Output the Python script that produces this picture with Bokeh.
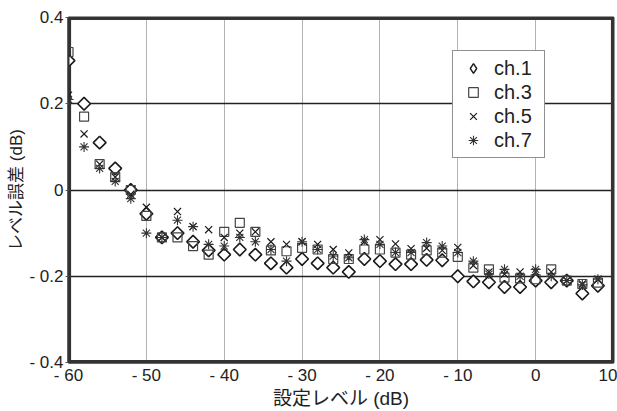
import math
from bokeh.plotting import figure
from bokeh.models import (Legend, LegendItem, FixedTicker, CDSView, IndexFilter,
                          ColumnDataSource)
from bokeh.embed import file_html
from bokeh.resources import INLINE

# Data
level = [-60, -58, -56, -54, -52, -50, -48, -46, -44, -42, -40, -38, -36, -34, -32,
         -30, -28, -26, -24, -22, -20, -18, -16, -14, -12, -10, -8, -6, -4, -2,
         0, 2, 4, 6, 8]
ch1 = [0.30, 0.20, 0.11, 0.05, 0.00, -0.055, -0.11, -0.10, -0.12, -0.14, -0.15, -0.138, -0.15, -0.17, -0.18,
       -0.16, -0.17, -0.18, -0.19, -0.16, -0.165, -0.172, -0.172, -0.162, -0.163, -0.20, -0.212, -0.214, -0.225, -0.225,
       -0.21, -0.214, -0.21, -0.24, -0.222]
ch3 = [0.32, 0.17, 0.06, 0.03, 0.00, -0.06, -0.11, -0.11, -0.13, -0.15, -0.097, -0.076, -0.097, -0.14, -0.142,
       -0.134, -0.138, -0.16, -0.16, -0.138, -0.138, -0.145, -0.15, -0.14, -0.145, -0.155, -0.18, -0.184, -0.203, -0.205,
       -0.207, -0.184, -0.21, -0.218, -0.215]
ch5 = [0.22, 0.13, 0.06, 0.03, -0.01, -0.04, -0.11, -0.05, -0.085, -0.092, -0.11, -0.10, -0.097, -0.12, -0.126,
       -0.12, -0.126, -0.138, -0.146, -0.12, -0.115, -0.125, -0.136, -0.135, -0.14, -0.133, -0.175, -0.19, -0.195, -0.19,
       -0.19, -0.19, -0.21, -0.218, -0.207]
ch7 = [0.21, 0.10, 0.05, 0.02, -0.02, -0.10, -0.11, -0.07, -0.085, -0.126, -0.13, -0.11, -0.12, -0.138, -0.165,
       -0.12, -0.138, -0.153, -0.157, -0.115, -0.126, -0.145, -0.145, -0.122, -0.13, -0.145, -0.165, -0.195, -0.184, -0.2,
       -0.184, -0.2, -0.21, -0.22, -0.207]

x_ticks = [-60, -50, -40, -30, -20, -10, 0, 10]
x_tick_labels = ["- 60", "- 50", "- 40", "- 30", "- 20", "- 10", "0", "10"]
y_ticks = [-0.4, -0.2, 0, 0.2, 0.4]
y_tick_labels = ["- 0.4", "- 0.2", "0", "0.2", "0.4"]
X_RANGE = (-60, 10)
Y_RANGE = (-0.4, 0.4)

FONT = "'Liberation Sans', 'Noto Sans CJK JP', sans-serif"
FRAME = "#333333"

p = figure(frame_width=545, frame_height=345, x_range=X_RANGE, y_range=Y_RANGE,
           output_backend="svg", toolbar_location=None,
           min_border_left=68, min_border_right=4, min_border_top=17, min_border_bottom=30)
p.background_fill_color = "white"
p.border_fill_color = "white"
p.outline_line_color = FRAME
p.outline_line_width = 2

p.xaxis.ticker = FixedTicker(ticks=x_ticks)
p.yaxis.ticker = FixedTicker(ticks=y_ticks)
p.xaxis.major_label_overrides = {t: l for t, l in zip(x_ticks, x_tick_labels)}
p.yaxis.major_label_overrides = {t: l for t, l in zip(y_ticks, y_tick_labels)}
for ax in (p.xaxis, p.yaxis):
    ax.major_label_text_font = FONT
    ax.major_label_text_color = "#222"
    ax.axis_label_text_font = FONT
    ax.axis_label_text_font_style = "normal"
    ax.axis_label_text_color = "#222"
    ax.axis_line_color = FRAME
    ax.axis_line_width = 2
    ax.minor_tick_line_color = None
    ax.major_tick_line_color = "#555"
    ax.major_tick_line_width = 1
    ax.major_tick_in = 0
    ax.major_label_standoff = 0
    ax.axis_label_standoff = 0
p.yaxis.major_label_standoff = 2
p.xaxis.major_label_standoff = 3
p.xaxis.major_label_text_font_size = "17px"
p.yaxis.major_label_text_font_size = "17px"
p.xaxis.axis_label_text_font_size = "19px"
p.yaxis.axis_label_text_font_size = "17px"
p.xaxis.axis_label = "設定レベル (dB)"
p.yaxis.axis_label = "レベル誤差 (dB)"
p.xaxis.major_tick_out = 0
p.yaxis.major_tick_out = 3

p.xgrid.ticker = FixedTicker(ticks=x_ticks)
p.ygrid.ticker = FixedTicker(ticks=y_ticks)
p.xgrid.grid_line_color = "#666"
p.xgrid.grid_line_dash = "1 1"
p.xgrid.grid_line_width = 1
p.ygrid.grid_line_color = "#222"
p.ygrid.grid_line_width = 1.5

# plot-area frame, drawn just inside the axis range bounds
dx = (X_RANGE[1] - X_RANGE[0]) * 0.002
dy = (Y_RANGE[1] - Y_RANGE[0]) * 0.003
p.quad(left=[X_RANGE[0] + dx], right=[X_RANGE[1] - dx],
       bottom=[Y_RANGE[0] + dy], top=[Y_RANGE[1] - dy],
       fill_color=None, line_color=FRAME, line_width=3)

col = "#1a1a1a"
src1 = ColumnDataSource(dict(x=level, y=ch1))
# legend symbol for ch.1 (hidden under the first ch.1 marker in the plot area)
r1_leg = p.scatter("x", "y", source=src1, view=CDSView(filter=IndexFilter(indices=[0])),
                   marker="diamond", size=12, line_color=col, line_width=1.4, fill_color="white")
r1 = p.scatter("x", "y", source=src1, marker="square", angle=math.pi / 4, size=9, line_color=col,
               line_width=1.6, fill_color="white")
r3 = p.scatter(level, ch3, marker="square", size=9, line_color="#444",
               line_width=1.2, fill_color=None)
r5 = p.scatter(level, ch5, marker="x", size=10, line_color=col, line_width=1.2)
r7 = p.scatter(level, ch7, marker="asterisk", size=10, line_color="#333", line_width=1.1)

legend = Legend(items=[LegendItem(label="ch.1", renderers=[r1_leg]),
                       LegendItem(label="ch.3", renderers=[r3]),
                       LegendItem(label="ch.5", renderers=[r5]),
                       LegendItem(label="ch.7", renderers=[r7])],
                location=(384, 204))
legend.label_text_font = FONT
legend.label_text_font_size = "20px"
legend.label_text_color = "#222"
legend.border_line_color = "#222"
legend.border_line_width = 1.2
legend.background_fill_alpha = 1
legend.spacing = 0
legend.padding = 5
legend.margin = 0
legend.glyph_width = 30
legend.glyph_height = 24
legend.label_standoff = 6
legend.label_height = 24
legend.label_width = 45
p.add_layout(legend)

open("out.html", "w").write(file_html(p, INLINE))
